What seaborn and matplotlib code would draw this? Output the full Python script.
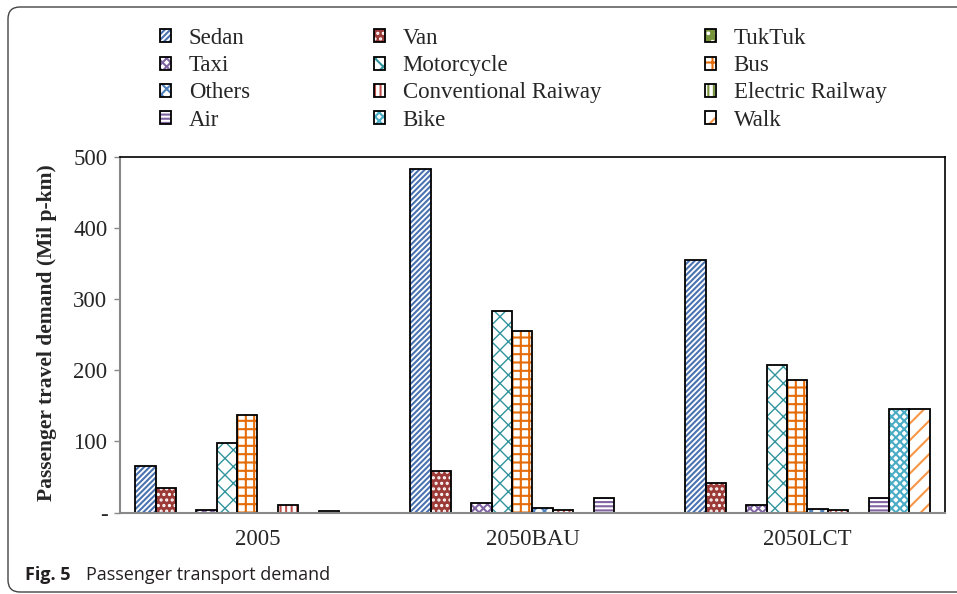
import numpy as np
import pandas as pd
import matplotlib
matplotlib.use('Agg')
import matplotlib.pyplot as plt
import seaborn as sns
from matplotlib.patches import Rectangle, Patch, FancyBboxPatch
from matplotlib.legend_handler import HandlerTuple

# Data (Mil p-km)
scenarios = ['2005', '2050BAU', '2050LCT']
modes = ['Sedan', 'Van', 'TukTuk', 'Taxi', 'Motorcycle', 'Bus', 'Others',
         'Conventional Raiway', 'Electric Railway', 'Air', 'Bike', 'Walk']
demand_2005 = [66, 35, 0, 3, 98, 137, 0, 11, 0, 2, 0, 0]
demand_bau = [483, 59, 0, 14, 283, 255, 7, 4, 0, 20, 0, 0]
demand_lct = [355, 42, 0, 10, 208, 187, 5, 4, 0, 20, 145, 145]
yticks = [0, 100, 200, 300, 400, 500]
ytick_labels = ['-', '100', '200', '300', '400', '500']

# fill colour, hatch, hatch colour for each mode
face_colors = ['white', '#9b3a37', '#77933c', 'white', 'white', 'white',
               'white', 'white', 'white', 'white', 'white', 'white']
hatches = ['//////', '...', '..', 'xxxx', 'xx', '++', 'xxx', '|||', '|||', '----', 'xxxx', '//']
hatch_colors = ['#4a72b0', 'white', 'white', '#8064a2', '#31949c', '#e46c0a',
                '#4f81bd', '#c0504d', '#77933c', '#8064a2', '#4bacc6', '#f79646']

df = pd.DataFrame({
    'scenario': np.repeat(scenarios, len(modes)),
    'mode': modes * len(scenarios),
    'demand': demand_2005 + demand_bau + demand_lct,
})

sns.set_style('white')
plt.rcParams['font.family'] = ['Liberation Serif', 'DejaVu Serif']
plt.rcParams['hatch.linewidth'] = 1.5

fig = plt.figure(figsize=(9.57, 5.94), dpi=100)
ax = fig.add_axes([120 / 957, (594 - 512.5) / 594, 825 / 957, 355.5 / 594])

sns.barplot(data=df, x='scenario', y='demand', hue='mode', hue_order=modes,
            order=scenarios, palette=dict(zip(modes, face_colors)),
            width=0.89, gap=0, saturation=1, linewidth=0, legend=False, ax=ax)

for cont, fc, h, hc in zip(ax.containers, face_colors, hatches, hatch_colors):
    for bar in cont:
        bar.set_facecolor(fc)
        bar.set_hatch(h)
        bar.set_edgecolor(hc)
        bar.set_linewidth(0)
        if h == 'xx' and hasattr(bar, 'set_hatch_linewidth'):
            bar.set_hatch_linewidth(1.0)
        ax.add_patch(Rectangle(bar.get_xy(), bar.get_width(), bar.get_height(),
                               fill=False, edgecolor='black', linewidth=1.3,
                               zorder=bar.get_zorder() + 0.1))

ax.set_xlim(-0.5, 2.5)
ax.set_ylim(0, 500)
ax.set_yticks(yticks, labels=ytick_labels)
ax.set_xticks([-0.5, 0.5, 1.5, 2.5], minor=True)
ax.tick_params(axis='x', which='major', length=0, pad=12, labelsize=16.5)
ax.tick_params(axis='x', which='minor', length=5, width=1, color='#898989', direction='out')
ax.tick_params(axis='y', length=4, width=1, color='#898989', pad=5, labelsize=16.5, left=True)
ax.set_xlabel('')
ax.set_ylabel('Passenger travel demand (Mil p-km)', fontsize=15.5, fontweight='bold')
ax.yaxis.set_label_coords(-0.076, 0.505)

for side in ['left', 'bottom']:
    ax.spines[side].set_color('#898989')
    ax.spines[side].set_linewidth(1.5)
for side in ['top', 'right']:
    ax.spines[side].set_visible(True)
    ax.spines[side].set_color('black')
    ax.spines[side].set_linewidth(1.2)

# legend: three columns placed separately, row-wise order as in the source
handles = [(Patch(facecolor=fc, hatch=h, edgecolor=hc, linewidth=0),
            Patch(fill=False, edgecolor='black', linewidth=1.3))
           for fc, h, hc in zip(face_colors, hatches, hatch_colors)]
col_x = [160, 374, 705]
for c in range(3):
    idx = [c, c + 3, c + 6, c + 9]
    fig.legend([handles[i] for i in idx], [modes[i] for i in idx],
               handler_map={tuple: HandlerTuple(ndivide=1, pad=0)},
               loc='upper left', bbox_to_anchor=(col_x[c] / 957, 1 - 28 / 594),
               frameon=False, borderpad=0, borderaxespad=0, fontsize=16.5,
               handlelength=0.5, handleheight=0.5, handletextpad=0.75,
               labelspacing=0.27)

# caption and rounded frame
fig.text(25 / 957, 1 - 575 / 594, 'Fig. 5', family='Open Sans', fontweight='bold',
         fontsize=13, color='#231f20', va='center')
fig.text(86 / 957, 1 - 575 / 594, 'Passenger transport demand', family='Open Sans',
         fontsize=13, color='#231f20', va='center')
fig.patches.append(FancyBboxPatch((0.08, 0.02), 11.0, 5.85,
                                  boxstyle='round,pad=0,rounding_size=0.12',
                                  transform=fig.dpi_scale_trans, fill=False,
                                  edgecolor='#444444', linewidth=1.0))

fig.savefig('out.png', dpi=100)
